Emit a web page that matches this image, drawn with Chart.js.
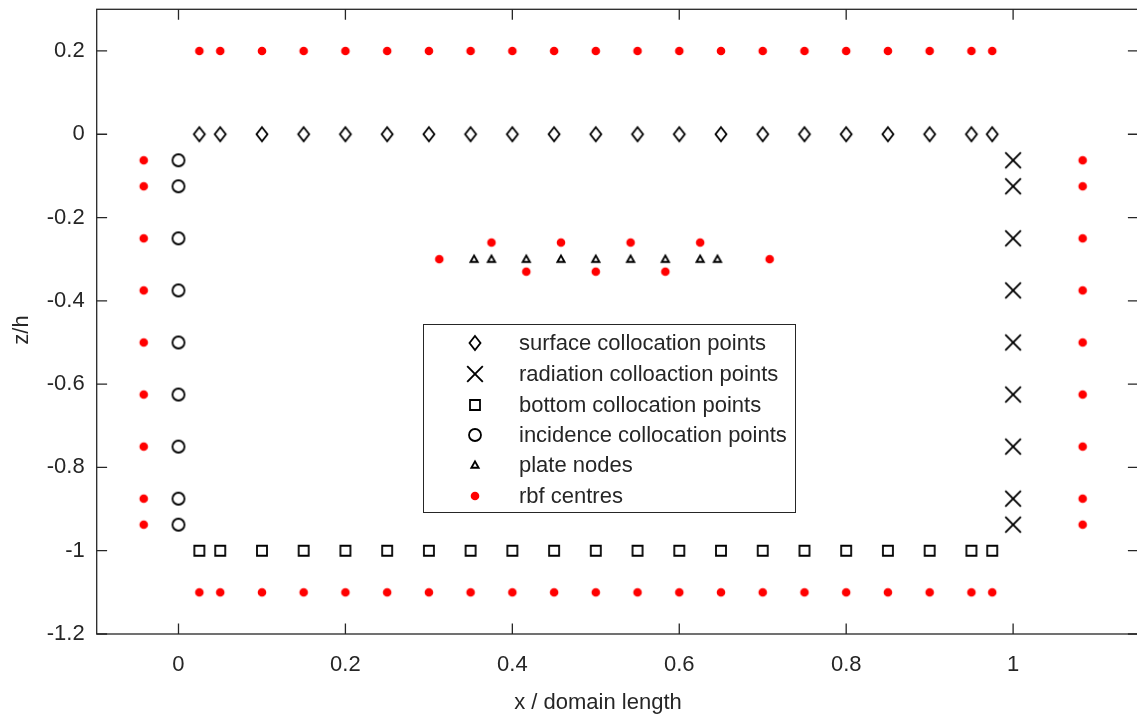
<!DOCTYPE html>
<html><head><meta charset="utf-8">
<script src="https://cdn.jsdelivr.net/npm/chart.js@4.4.1/dist/chart.umd.min.js"></script>
<style>
html,body{margin:0;padding:0;background:#fff;overflow:hidden;width:1137px;height:718px}
#wrap{position:absolute;left:0;top:0;width:1140px;height:718px}
</style>
</head><body><div id="wrap"><canvas id="c" width="1140" height="718"></canvas></div>
<script>
// ---------- data ----------
const surfaceX = [0.025,0.05,0.1,0.15,0.2,0.25,0.3,0.35,0.4,0.45,0.5,0.55,0.6,0.65,0.7,0.75,0.8,0.85,0.9,0.95,0.975];
const surfaceZ = 0;
const bottomX = [0.025,0.05,0.1,0.15,0.2,0.25,0.3,0.35,0.4,0.45,0.5,0.55,0.6,0.65,0.7,0.75,0.8,0.85,0.9,0.95,0.975];
const bottomZ = -1;
const sideZ = [-0.0625,-0.125,-0.25,-0.375,-0.5,-0.625,-0.75,-0.875,-0.9375];
const radiationX = 1;
const incidenceX = 0;
const plateX = [0.3542,0.375,0.4167,0.4583,0.5,0.5417,0.5833,0.625,0.6458];
const plateZ = -0.3;
const rbfTopX = [0.025,0.05,0.1,0.15,0.2,0.25,0.3,0.35,0.4,0.45,0.5,0.55,0.6,0.65,0.7,0.75,0.8,0.85,0.9,0.95,0.975];
const rbfTopZ = 0.2;
const rbfBottomX = [0.025,0.05,0.1,0.15,0.2,0.25,0.3,0.35,0.4,0.45,0.5,0.55,0.6,0.65,0.7,0.75,0.8,0.85,0.9,0.95,0.975];
const rbfBottomZ = -1.1;
const rbfLeftX = -0.0417;
const rbfRightX = 1.0833;
const rbfPlateUpperX = [0.375,0.4583,0.5417,0.625];
const rbfPlateUpperZ = -0.26;
const rbfPlateLowerX = [0.4167,0.5,0.5833];
const rbfPlateLowerZ = -0.33;
const rbfPlateEndX = [0.3125,0.7083];
const rbfPlateEndZ = -0.3;

const xTicks = [0,0.2,0.4,0.6,0.8,1];
const xTickLabels = ['0','0.2','0.4','0.6','0.8','1'];
const yTicks = [0.2,0,-0.2,-0.4,-0.6,-0.8,-1,-1.2];
const yTickLabels = ['0.2','0','-0.2','-0.4','-0.6','-0.8','-1','-1.2'];
const xTitle = 'x / domain length';
const yTitle = 'z/h';
const legendLabels = ['surface collocation points','radiation colloaction points','bottom collocation points','incidence collocation points','plate nodes','rbf centres'];

// ---------- markers ----------
function marker(kind){
  const S = 24, c = S/2;
  const cv = document.createElement('canvas'); cv.width = S; cv.height = S;
  const g = cv.getContext('2d');
  g.strokeStyle = '#000'; g.lineWidth = 1.8; g.lineJoin = 'miter';
  g.beginPath();
  if (kind === 'diamond'){ g.moveTo(c,c-7); g.lineTo(c+5.5,c); g.lineTo(c,c+7); g.lineTo(c-5.5,c); g.closePath(); g.stroke(); }
  else if (kind === 'x'){ g.lineWidth=1.9; g.moveTo(c-7.8,c-7.8); g.lineTo(c+7.8,c+7.8); g.moveTo(c+7.8,c-7.8); g.lineTo(c-7.8,c+7.8); g.stroke(); }
  else if (kind === 'square'){ g.rect(c-5,c-5,10,10); g.stroke(); }
  else if (kind === 'circle'){ g.arc(c,c,6,0,Math.PI*2); g.stroke(); }
  else if (kind === 'tri'){ g.lineWidth=1.9; g.moveTo(c,c-3.6); g.lineTo(c+3.6,c+2.8); g.lineTo(c-3.6,c+2.8); g.closePath(); g.stroke(); }
  else if (kind === 'dot'){ g.fillStyle='#ff0000'; g.arc(c,c,4.3,0,Math.PI*2); g.fill(); }
  return cv;
}
const mk = {diamond:marker('diamond'), x:marker('x'), square:marker('square'), circle:marker('circle'), tri:marker('tri'), dot:marker('dot')};

const surfacePts = surfaceX.map(x => ({x, y: surfaceZ}));
const radiationPts = sideZ.map(z => ({x: radiationX, y: z}));
const bottomPts = bottomX.map(x => ({x, y: bottomZ}));
const incidencePts = sideZ.map(z => ({x: incidenceX, y: z}));
const platePts = plateX.map(x => ({x, y: plateZ}));
const rbfPts = [].concat(
  rbfTopX.map(x => ({x, y: rbfTopZ})),
  rbfBottomX.map(x => ({x, y: rbfBottomZ})),
  sideZ.map(z => ({x: rbfLeftX, y: z})),
  sideZ.map(z => ({x: rbfRightX, y: z})),
  rbfPlateUpperX.map(x => ({x, y: rbfPlateUpperZ})),
  rbfPlateLowerX.map(x => ({x, y: rbfPlateLowerZ})),
  rbfPlateEndX.map(x => ({x, y: rbfPlateEndZ}))
);

const FONT = '"Liberation Sans", Arial, sans-serif';
Chart.defaults.font.family = FONT;
const AX = '#262626';

const styles = [mk.diamond, mk.x, mk.square, mk.circle, mk.tri, mk.dot];

const frame = {
  id: 'frame',
  beforeDatasetsDraw(chart){
    const {ctx, chartArea: a, scales: {x, y}} = chart;
    ctx.save();
    ctx.strokeStyle = AX; ctx.lineWidth = 1.3;
    ctx.strokeRect(a.left, a.top, a.right - a.left, a.bottom - a.top);
    const L = 10.4;
    ctx.beginPath();
    xTicks.forEach(v => { const p = x.getPixelForValue(v);
      ctx.moveTo(p, a.bottom); ctx.lineTo(p, a.bottom - L);
      ctx.moveTo(p, a.top); ctx.lineTo(p, a.top + L); });
    yTicks.forEach(v => { const p = y.getPixelForValue(v);
      ctx.moveTo(a.left, p); ctx.lineTo(a.left + L, p);
      ctx.moveTo(a.right, p); ctx.lineTo(a.right - L, p); });
    ctx.stroke();
    // axis titles
    ctx.font = '22px ' + FONT; ctx.fillStyle = AX; ctx.textAlign = 'center'; ctx.textBaseline = 'middle';
    ctx.fillText(xTitle, 598, 703);
    ctx.translate(22, 330); ctx.rotate(-Math.PI / 2);
    ctx.fillText(yTitle, 0, 0);
    ctx.restore();
  },
  afterDraw(chart){
    const {ctx} = chart;
    ctx.save();
    const bx = 423.5, by = 324.5, bw = 372, bh = 188;
    ctx.fillStyle = '#fff'; ctx.fillRect(bx, by, bw, bh);
    ctx.strokeStyle = AX; ctx.lineWidth = 1; ctx.strokeRect(bx, by, bw, bh);
    ctx.font = '22px ' + FONT; ctx.fillStyle = AX; ctx.textBaseline = 'middle'; ctx.textAlign = 'left';
    const rows = [343, 374, 405, 435, 465, 496];
    legendLabels.forEach((t, i) => {
      const im = styles[i];
      ctx.drawImage(im, 475 - im.width/2, rows[i] - im.height/2);
      ctx.fillText(t, 519, rows[i] + 1);
    });
    ctx.restore();
  }
};

const ds = (label, data, style) => ({label, data, pointStyle: style, pointRadius: 8, pointHoverRadius: 8, showLine: false});

new Chart(document.getElementById('c'), {
  type: 'scatter',
  data: { datasets: [
    ds(legendLabels[0], surfacePts, mk.diamond),
    ds(legendLabels[1], radiationPts, mk.x),
    ds(legendLabels[2], bottomPts, mk.square),
    ds(legendLabels[3], incidencePts, mk.circle),
    ds(legendLabels[4], platePts, mk.tri),
    ds(legendLabels[5], rbfPts, mk.dot)
  ]},
  options: {
    responsive: false, animation: false, devicePixelRatio: 1,
    layout: { autoPadding: false, padding: { left: 0, top: 9.3, right: 1.7, bottom: 0 } },
    plugins: { legend: { display: false }, tooltip: { enabled: false } },
    scales: {
      x: {
        type: 'linear', min: -0.098, max: 1.15,
        afterBuildTicks: s => { s.ticks = xTicks.map(v => ({value: v})); },
        afterFit: s => { s.height = 84; s.paddingLeft = 0; s.paddingRight = 0; },
        grid: { display: false, drawTicks: false }, border: { display: false },
        ticks: { autoSkip: false, maxRotation: 0, padding: 18, color: AX, font: { size: 22 },
          callback: (v, i) => xTickLabels[i] },
        title: { display: false }
      },
      y: {
        type: 'linear', min: -1.2, max: 0.3,
        afterBuildTicks: s => { s.ticks = yTicks.map(v => ({value: v})); },
        afterFit: s => { s.width = 96.7; s.paddingTop = 0; s.paddingBottom = 0; },
        grid: { display: false, drawTicks: false }, border: { display: false },
        ticks: { autoSkip: false, padding: 12, color: AX, font: { size: 22 },
          callback: (v, i) => yTickLabels[i] },
        title: { display: false }
      }
    }
  },
  plugins: [frame]
});
</script>
</body></html>
